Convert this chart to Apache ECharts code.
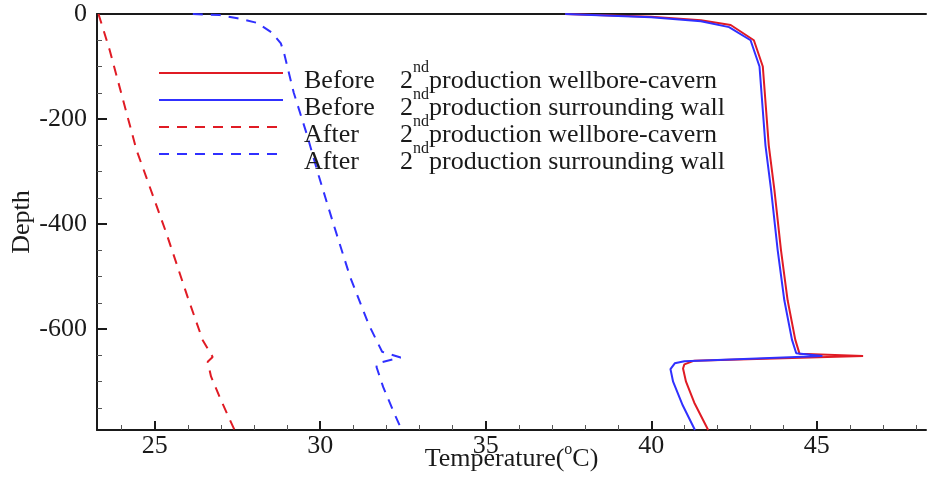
<!DOCTYPE html>
<html>
<head>
<meta charset="utf-8">
<script src="https://cdn.jsdelivr.net/npm/echarts@6/dist/echarts.min.js"></script>
<style>
  html, body { margin: 0; padding: 0; background: #fff; }
  #chart { width: 928px; height: 484px; }
</style>
</head>
<body>
<div id="chart"></div>
<script>
// [temperature, depth] pairs
var beforeCavern = [[37.4, 0], [40.0, -5], [41.5, -12], [42.4, -21], [43.1, -50], [43.37, -100], [43.55, -250],
  [43.72, -335], [43.92, -450], [44.12, -545], [44.35, -620], [44.48, -647], [46.4, -651], [41.3, -660],
  [41.0, -667], [40.96, -675], [41.05, -700], [41.3, -740], [41.72, -792]];
var beforeWall = [[37.4, 0], [40.0, -6], [41.5, -14], [42.35, -25], [43.0, -50], [43.27, -100], [43.45, -250],
  [43.62, -335], [43.82, -450], [44.02, -545], [44.25, -620], [44.38, -646], [45.17, -651], [41.0, -661],
  [40.71, -665], [40.58, -676], [40.66, -700], [40.95, -745], [41.32, -792]];
var afterCavern = [[23.3, 0], [23.45, -30], [23.64, -69], [24.45, -259], [25.35, -417], [26.0, -540],
  [26.45, -621], [26.75, -653], [26.6, -662], [26.7, -690], [27.0, -735], [27.41, -792]];
var afterWall = [[26.15, 0], [26.96, -2], [27.5, -8], [28.1, -17], [28.55, -36], [28.81, -56], [28.91, -75],
  [29.2, -150], [29.6, -230], [29.95, -307], [30.4, -400], [30.9, -500], [31.47, -592], [31.87, -643],
  [32.43, -654], [31.72, -665], [31.7, -672], [31.9, -710], [32.2, -755], [32.46, -792]];

var seriesNames = ['Before 2nd production wellbore-cavern', 'Before 2nd production surrounding wall',
  'After 2nd production wellbore-cavern', 'After 2nd production surrounding wall'];
var legendWords = ['Before', 'Before', 'After', 'After'];
var legendTails = ['production wellbore-cavern', 'production surrounding wall',
  'production wellbore-cavern', 'production surrounding wall'];

var xMajor = [25, 30, 35, 40, 45];
var xMinor = [24, 26, 27, 28, 29, 31, 32, 33, 34, 36, 37, 38, 39, 41, 42, 43, 44, 46, 47, 48];
var yMajor = [0, -200, -400, -600];
var yMinor = [-50, -100, -150, -250, -300, -350, -450, -500, -550, -650, -700, -750];

var font = 'Liberation Serif';
var ink = '#1a1a1a';
var red = '#e01b24';
var blue = '#3030ff';

var chart = echarts.init(document.getElementById('chart'));

function makeLine(name, data, color, dashed) {
  return {
    name: name,
    type: 'line',
    data: data,
    symbol: 'none',
    animation: false,
    lineStyle: {
      color: color,
      width: 2,
      type: dashed ? [10, 8] : 'solid'
    },
    itemStyle: { color: color }
  };
}

var option = {
  backgroundColor: '#fff',
  grid: {
    left: 97,
    right: 2,
    top: 14,
    bottom: 54,
    outerBoundsMode: 'none'
  },
  legend: {
    orient: 'vertical',
    left: 158,
    top: 60,
    padding: 0,
    itemGap: -7,
    itemWidth: 124,
    itemHeight: 14,
    itemStyle: { opacity: 0 },
    data: seriesNames,
    formatter: function (name) {
      var i = seriesNames.indexOf(name);
      return '{w|' + legendWords[i] + '}{a|2}{s|nd}{a|' + legendTails[i] + '}';
    },
    textStyle: {
      fontFamily: font,
      fontSize: 26,
      color: ink,
      padding: [8, 0, 0, 0],
      rich: {
        w: { fontFamily: font, fontSize: 26, color: ink, width: 96, padding: [0, 0, 0, 16], lineHeight: 34, verticalAlign: 'bottom' },
        a: { fontFamily: font, fontSize: 26, color: ink, lineHeight: 34, verticalAlign: 'bottom' },
        s: { fontFamily: font, fontSize: 16, color: ink, lineHeight: 16, verticalAlign: 'top' }
      }
    }
  },
  xAxis: [{
    type: 'value',
    position: 'bottom',
    min: 23.256,
    max: 48.3,
    name: '{a|Temperature(}{s|o}{a|C)}',
    nameLocation: 'middle',
    nameGap: 12,
    nameMoveOverlap: false,
    nameTextStyle: {
      rich: {
        a: { fontFamily: font, fontSize: 26, color: ink, lineHeight: 30, verticalAlign: 'bottom' },
        s: { fontFamily: font, fontSize: 16, color: ink, lineHeight: 16, verticalAlign: 'top' }
      }
    },
    axisLine: { onZero: false, lineStyle: { color: ink, width: 2 } },
    axisTick: { inside: true, length: 9, customValues: xMajor, lineStyle: { color: ink, width: 2 } },
    axisLabel: { customValues: xMajor, fontFamily: font, fontSize: 26, color: ink, margin: 3 },
    splitLine: { show: false }
  }, {
    type: 'value',
    position: 'bottom',
    min: 23.256,
    max: 48.3,
    axisLine: { show: false, onZero: false },
    axisTick: { inside: true, length: 5, customValues: xMinor, lineStyle: { color: '#555', width: 1 } },
    axisLabel: { show: false },
    splitLine: { show: false }
  }, {
    type: 'value',
    position: 'top',
    min: 23.256,
    max: 48.3,
    axisLine: { onZero: false, lineStyle: { color: ink, width: 2 } },
    axisTick: { show: false },
    axisLabel: { show: false },
    splitLine: { show: false }
  }],
  yAxis: [{
    type: 'value',
    position: 'left',
    min: -792,
    max: 0,
    name: 'Depth',
    nameLocation: 'middle',
    nameGap: 62,
    nameMoveOverlap: false,
    nameTextStyle: { fontFamily: font, fontSize: 26, color: ink },
    axisLine: { onZero: false, lineStyle: { color: ink, width: 2 } },
    axisTick: { inside: true, length: 10, customValues: yMajor, lineStyle: { color: ink, width: 2 } },
    axisLabel: { customValues: yMajor, fontFamily: font, fontSize: 26, color: ink, margin: 10 },
    splitLine: { show: false }
  }, {
    type: 'value',
    position: 'left',
    min: -792,
    max: 0,
    axisLine: { show: false, onZero: false },
    axisTick: { inside: true, length: 5, customValues: yMinor, lineStyle: { color: '#555', width: 1 } },
    axisLabel: { show: false },
    splitLine: { show: false }
  }],
  series: [
    makeLine(seriesNames[0], beforeCavern, red, false),
    makeLine(seriesNames[1], beforeWall, blue, false),
    makeLine(seriesNames[2], afterCavern, red, true),
    makeLine(seriesNames[3], afterWall, blue, true)
  ]
};
chart.setOption(option);
</script>
</body>
</html>
